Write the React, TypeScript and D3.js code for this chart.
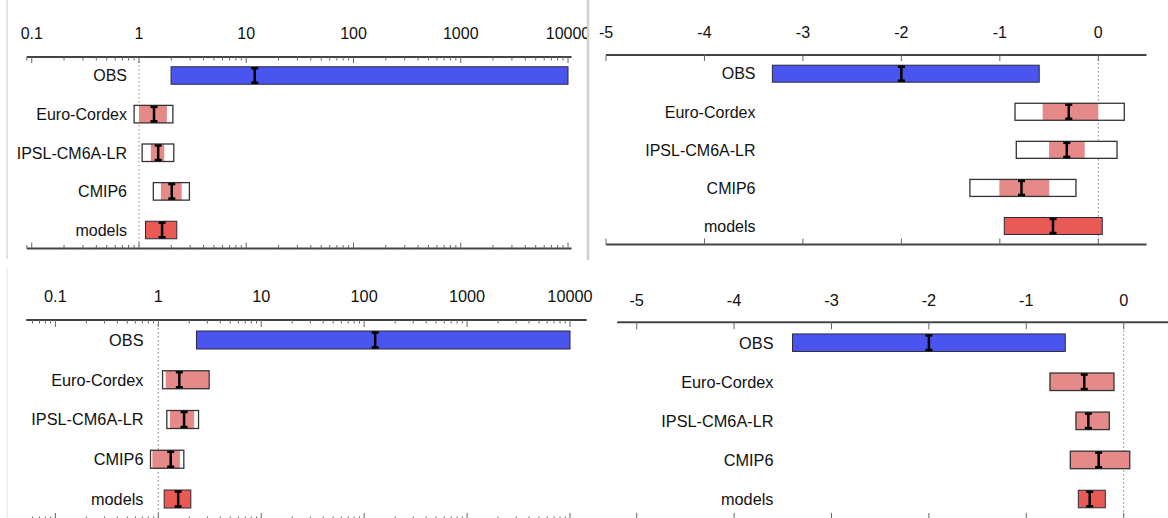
import React from "react";
import * as d3 from "d3";

const categories = ["OBS", "Euro-Cordex", "IPSL-CM6A-LR", "CMIP6", "models"];

// Panel A (top-left, log scale)
const aBest = [12.0, 1.38, 1.51, 2.02, 1.64];
const aLow = [1.99, 1.0, 1.29, 1.6, 1.15];
const aHigh = [10000, 1.82, 1.72, 2.5, 2.25];
const aOuterLow = [null, 0.9, 1.07, 1.36, null];
const aOuterHigh = [null, 2.07, 2.11, 2.95, null];

// Panel B (top-right, linear)
const bBest = [-2.0, -0.3, -0.32, -0.78, -0.46];
const bLow = [-3.31, -0.565, -0.5, -1.005, -0.955];
const bHigh = [-0.6, 0.0, -0.138, -0.498, 0.04];
const bOuterLow = [null, -0.846, -0.833, -1.304, null];
const bOuterHigh = [null, 0.264, 0.19, -0.227, null];

// Panel C (bottom-left, log scale)
const cBest = [128, 1.6, 1.78, 1.32, 1.56];
const cLow = [2.35, 1.18, 1.3, 0.875, 1.14];
const cHigh = [10000, 3.1, 2.23, 1.62, 2.07];
const cOuterLow = [null, 1.1, 1.21, 0.84, null];
const cOuterHigh = [null, 3.12, 2.46, 1.77, null];

// Panel D (bottom-right, linear)
const dBest = [-2.0, -0.405, -0.363, -0.257, -0.349];
const dLow = [-3.4, -0.757, -0.49, -0.548, -0.466];
const dHigh = [-0.6, -0.1, -0.148, 0.062, -0.189];
const dOuterLow = [null, -0.757, -0.49, -0.548, null];
const dOuterHigh = [null, -0.1, -0.148, 0.062, null];

const logTickValues = [0.1, 1, 10, 100, 1000, 10000];
const linTickValues = [-5, -4, -3, -2, -1, 0];

const COLORS = ["#4a55f0", "#e68a89", "#e68a89", "#e68a89", "#ea5a55"];
const FONT = "'Liberation Sans', Arial, Helvetica, sans-serif";

type Cfg = {
  id: string;
  log: boolean;
  anchors: [number, number];
  range: [number, number];
  extent: [number, number];
  topY: number;
  botY: number;
  labelY: number;
  rowRange: [number, number];
  barH: number;
  labelX: number;
  refValue: number;
  clipW?: number;
  fontSize: number;
  majorLen: number;
  minorLen: number;
  best: number[];
  low: number[];
  high: number[];
  oLow: (number | null)[];
  oHigh: (number | null)[];
  ticks: number[];
};

function Panel({ cfg }: { cfg: Cfg }) {
  const x = cfg.log
    ? d3.scaleLog().domain(cfg.anchors).range(cfg.range)
    : d3.scaleLinear().domain(cfg.anchors).range(cfg.range);
  const y = d3.scalePoint<string>().domain(categories).range(cfg.rowRange);
  const [e0, e1] = cfg.extent;
  const tickMarks: { v: number; major: boolean }[] = [];
  if (cfg.log) {
    for (let k = Math.floor(Math.log10(e0)); k <= Math.ceil(Math.log10(e1)); k++) {
      for (let m = 1; m <= 9; m++) {
        const v = m * Math.pow(10, k);
        if (v >= e0 * 0.999 && v <= e1 * 1.001) tickMarks.push({ v, major: m === 1 });
      }
    }
  } else {
    cfg.ticks.forEach((v) => tickMarks.push({ v, major: true }));
  }
  const fmt = (v: number) => (cfg.log ? (v < 1 ? String(v) : d3.format("d")(v)) : String(v));
  const h = cfg.barH;
  return (
    <g clipPath={cfg.clipW ? `url(#clip-${cfg.id})` : undefined}>
      {cfg.clipW && (
        <defs>
          <clipPath id={`clip-${cfg.id}`}>
            <rect x={0} y={0} width={cfg.clipW} height={600} />
          </clipPath>
        </defs>
      )}
      {/* reference dotted line */}
      <line
        x1={x(cfg.refValue)}
        x2={x(cfg.refValue)}
        y1={cfg.topY}
        y2={cfg.botY}
        stroke="#888"
        strokeWidth={1}
        strokeDasharray="1.5,2.5"
      />
      {/* axes */}
      {[cfg.topY, cfg.botY].map((ay, i) => (
        <g key={i}>
          <line x1={x(e0)} x2={x(e1)} y1={ay} y2={ay} stroke="#444" strokeWidth={2} />
          {tickMarks.map((t, j) => {
            const len = t.major ? cfg.majorLen : cfg.minorLen;
            const dir = i === 0 ? 1 : -1;
            return (
              <line
                key={j}
                x1={x(t.v)}
                x2={x(t.v)}
                y1={ay}
                y2={ay + dir * len}
                stroke="#666"
                strokeWidth={1}
              />
            );
          })}
        </g>
      ))}
      {cfg.ticks.map((v, j) => (
        <text
          key={j}
          x={x(v)}
          y={cfg.labelY}
          textAnchor="middle"
          fontFamily={FONT}
          fontSize={cfg.fontSize}
          fill="#111"
        >
          {fmt(v)}
        </text>
      ))}
      {categories.map((c, i) => {
        const cy = y(c) as number;
        const ol = cfg.oLow[i];
        const oh = cfg.oHigh[i];
        const hasOuter = ol !== null && oh !== null;
        const xb = x(cfg.best[i]);
        return (
          <g key={c}>
            <text
              x={cfg.labelX}
              y={cy}
              dy="0.36em"
              textAnchor="end"
              fontFamily={FONT}
              fontSize={cfg.fontSize}
              fill="#111"
            >
              {c}
            </text>
            {hasOuter && (
              <rect x={x(ol as number)} y={cy - h / 2} width={x(oh as number) - x(ol as number)} height={h} fill="#fff" />
            )}
            <rect
              x={x(cfg.low[i])}
              y={cy - h / 2}
              width={x(cfg.high[i]) - x(cfg.low[i])}
              height={h}
              fill={COLORS[i]}
              stroke={hasOuter ? "none" : "#2a2a3a"}
              strokeWidth={1}
            />
            {hasOuter && (
              <rect
                x={x(ol as number)}
                y={cy - h / 2}
                width={x(oh as number) - x(ol as number)}
                height={h}
                fill="none"
                stroke="#333"
                strokeWidth={1.3}
              />
            )}
            <line x1={xb} x2={xb} y1={cy - h / 2 + 1} y2={cy + h / 2 - 1} stroke="#000" strokeWidth={2.5} />
            <line x1={xb - 3.5} x2={xb + 3.5} y1={cy - h / 2 + 1.5} y2={cy - h / 2 + 1.5} stroke="#000" strokeWidth={2.5} />
            <line x1={xb - 3.5} x2={xb + 3.5} y1={cy + h / 2 - 1.5} y2={cy + h / 2 - 1.5} stroke="#000" strokeWidth={2.5} />
          </g>
        );
      })}
    </g>
  );
}

const panels: Cfg[] = [
  {
    id: "a", log: true, anchors: [1, 10000], range: [139, 568], extent: [0.09, 10800],
    topY: 57, botY: 248.5, labelY: 38.5, rowRange: [75.5, 230], barH: 17.5, labelX: 127,
    refValue: 1, clipW: 587, fontSize: 16, majorLen: 6, minorLen: 3.5,
    best: aBest, low: aLow, high: aHigh, oLow: aOuterLow, oHigh: aOuterHigh, ticks: logTickValues,
  },
  {
    id: "b", log: false, anchors: [-5, 0], range: [606, 1098.3], extent: [-5, 0.49],
    topY: 55, botY: 244.5, labelY: 38, rowRange: [73.7, 226], barH: 17, labelX: 755.5,
    refValue: 0, fontSize: 16, majorLen: 6, minorLen: 3,
    best: bBest, low: bLow, high: bHigh, oLow: bOuterLow, oHigh: bOuterHigh, ticks: linTickValues,
  },
  {
    id: "c", log: true, anchors: [1, 10000], range: [158.3, 570], extent: [0.052, 14500],
    topY: 320, botY: 520, labelY: 301.5, rowRange: [340, 499], barH: 18, labelX: 143.5,
    refValue: 1, fontSize: 16.3, majorLen: 7, minorLen: 3.5,
    best: cBest, low: cLow, high: cHigh, oLow: cOuterLow, oHigh: cOuterHigh, ticks: logTickValues,
  },
  {
    id: "d", log: false, anchors: [-5, 0], range: [636.7, 1123.7], extent: [-5.2, 0.46],
    topY: 322.3, botY: 520, labelY: 305.5, rowRange: [342.7, 499], barH: 17.5, labelX: 773.5,
    refValue: 0, fontSize: 16.3, majorLen: 7, minorLen: 3,
    best: dBest, low: dLow, high: dHigh, oLow: dOuterLow, oHigh: dOuterHigh, ticks: linTickValues,
  },
];

export default function App() {
  return (
    <svg
      width={1168}
      height={518}
      viewBox="0 0 1168 518"
      style={{ position: "absolute", left: 0, top: 0, background: "#fff" }}
    >
      <rect x={0} y={0} width={1168} height={518} fill="#fff" />
      <line x1={7} x2={7} y1={0} y2={259} stroke="#e2e2e2" strokeWidth={2} />
      <line x1={588} x2={588} y1={0} y2={260} stroke="#d0d0d0" strokeWidth={2.5} />
      <line x1={7} x2={7} y1={268} y2={518} stroke="#f0f0f0" strokeWidth={2} />
      {panels.map((p) => (
        <Panel key={p.id} cfg={p} />
      ))}
    </svg>
  );
}
